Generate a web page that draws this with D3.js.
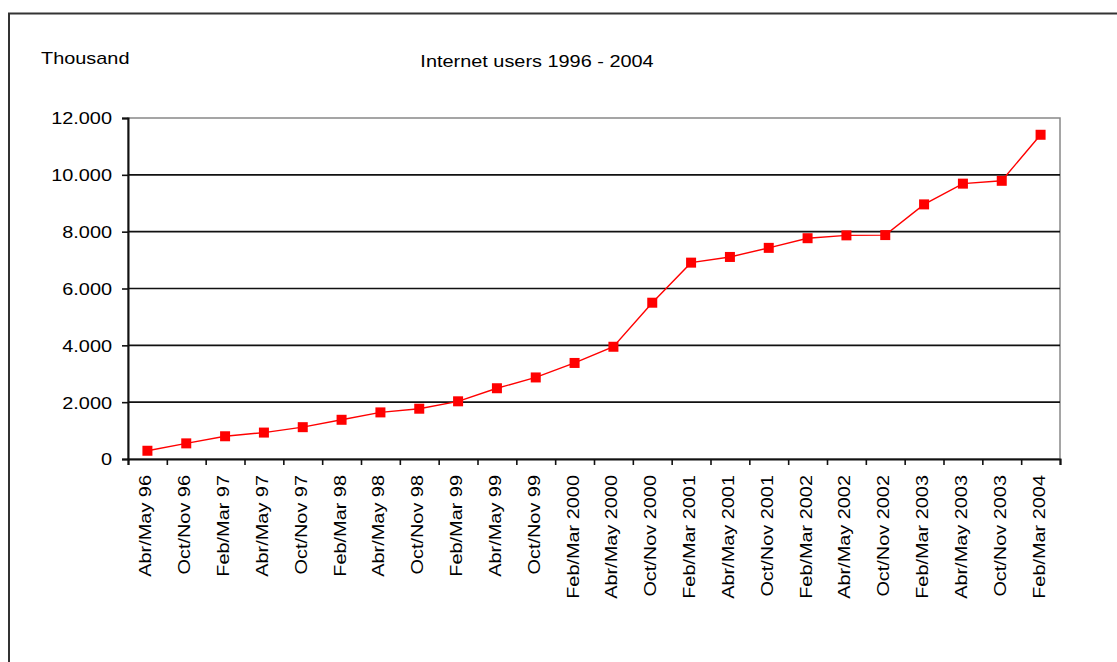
<!DOCTYPE html>
<html>
<head>
<meta charset="utf-8">
<script src="https://cdn.jsdelivr.net/npm/d3@7"></script>
<style>
  body { margin: 0; background: #fff; }
  svg text { font-family: "Liberation Sans", Arial, sans-serif; fill: #000; }
</style>
</head>
<body>
<div id="chart"></div>
<script>
"use strict";

// periods on the x axis
var periods = ["Abr/May 96", "Oct/Nov 96", "Feb/Mar 97", "Abr/May 97", "Oct/Nov 97",
  "Feb/Mar 98", "Abr/May 98", "Oct/Nov 98", "Feb/Mar 99", "Abr/May 99", "Oct/Nov 99",
  "Feb/Mar 2000", "Abr/May 2000", "Oct/Nov 2000", "Feb/Mar 2001", "Abr/May 2001",
  "Oct/Nov 2001", "Feb/Mar 2002", "Abr/May 2002", "Oct/Nov 2002", "Feb/Mar 2003",
  "Abr/May 2003", "Oct/Nov 2003", "Feb/Mar 2004"];

// internet users, thousand
var users = [290, 550, 800, 930, 1120, 1380, 1640, 1770, 2030, 2490, 2870, 3380,
  3950, 5500, 6910, 7110, 7430, 7770, 7870, 7880, 8960, 9690, 9790, 11410];

var yTicks = [0, 2000, 4000, 6000, 8000, 10000, 12000];

var titleText = "Internet users 1996 - 2004";
var unitText = "Thousand";

// == BOILERPLATE ==
var W = 1117, H = 662;
var margin = { top: 118, left: 128 },
    width = 1060 - 128,
    height = 459 - 118;
var stretch = 1.17; // the old chart fonts are a bit wider than Arial

var svg = d3.select("#chart").append("svg")
  .attr("width", W).attr("height", H);

// outer frame (only top and left are in view)
svg.append("path")
  .attr("d", "M9,670 L9,13.5 L1125,13.5")
  .attr("fill", "none").attr("stroke", "#333").attr("stroke-width", 2);

svg.append("g")
  .attr("transform", "translate(41,64) scale(" + stretch + ",1)")
  .append("text").attr("font-size", 17).text(unitText);

svg.append("g")
  .attr("transform", "translate(537,67) scale(" + stretch + ",1)")
  .append("text").attr("font-size", 17).attr("text-anchor", "middle").text(titleText);

var g = svg.append("g")
  .attr("transform", "translate(" + margin.left + "," + margin.top + ")");

var x = d3.scaleBand().domain(periods).range([0, width]).padding(0);
var xEdge = d3.scaleLinear().domain([0, periods.length]).range([0, width]);
var y = d3.scaleLinear().domain([0, 12000]).range([height, 0]);

var loc = d3.formatLocale({ decimal: ",", thousands: ".", grouping: [3], currency: ["", ""] });
var fmt = loc.format(",d");

// plot area border
g.append("rect")
  .attr("width", width).attr("height", height)
  .attr("fill", "#fff").attr("stroke", "#888").attr("stroke-width", 1.5);

// gridlines
g.selectAll(".grid")
  .data(yTicks.filter(function (d) { return d > 0 && d < 12000; }))
  .enter().append("line")
  .attr("x1", 0).attr("x2", width)
  .attr("y1", function (d) { return y(d); })
  .attr("y2", function (d) { return y(d); })
  .attr("stroke", "#111").attr("stroke-width", 1.6);

// y axis
var yAxis = g.append("g")
  .call(d3.axisLeft(y).tickValues(yTicks).tickSize(6).tickFormat(fmt));
yAxis.select(".domain").attr("stroke", "#111").attr("stroke-width", 2);
yAxis.selectAll(".tick line").attr("stroke", "#111").attr("stroke-width", 1.6);
yAxis.selectAll(".tick text")
  .attr("x", 0).attr("dy", "0.35em")
  .attr("font-size", 17).attr("fill", "#000")
  .attr("font-family", null)
  .attr("transform", "translate(-16,0) scale(" + stretch + ",1)");

// x axis ticks at category edges
var xTickAxis = g.append("g")
  .attr("transform", "translate(0," + height + ")")
  .call(d3.axisBottom(xEdge).tickValues(d3.range(periods.length + 1)).tickSize(6).tickFormat(""));
xTickAxis.select(".domain").attr("stroke", "#111").attr("stroke-width", 2);
xTickAxis.selectAll(".tick line").attr("stroke", "#111").attr("stroke-width", 1.6);

// x labels
var xAxis = g.append("g")
  .attr("transform", "translate(0," + height + ")")
  .call(d3.axisBottom(x).tickSize(0));
xAxis.select(".domain").remove();
xAxis.selectAll(".tick text")
  .attr("x", 0).attr("y", 0).attr("dy", 0)
  .attr("font-size", 17).attr("fill", "#000")
  .attr("font-family", null)
  .attr("text-anchor", "end")
  .attr("transform", "translate(4,16) rotate(-90) scale(" + stretch + ",1)");

// the line
var line = d3.line()
  .x(function (d, i) { return x(periods[i]) + x.bandwidth() / 2; })
  .y(function (d) { return y(d); });

g.append("path")
  .datum(users)
  .attr("d", line)
  .attr("fill", "none").attr("stroke", "#ff0000").attr("stroke-width", 1.4);

var mk = 10;
g.selectAll(".pt")
  .data(users)
  .enter().append("rect")
  .attr("x", function (d, i) { return x(periods[i]) + x.bandwidth() / 2 - mk / 2; })
  .attr("y", function (d) { return y(d) - mk / 2; })
  .attr("width", mk).attr("height", mk)
  .attr("fill", "#ff0000");
</script>
</body>
</html>
